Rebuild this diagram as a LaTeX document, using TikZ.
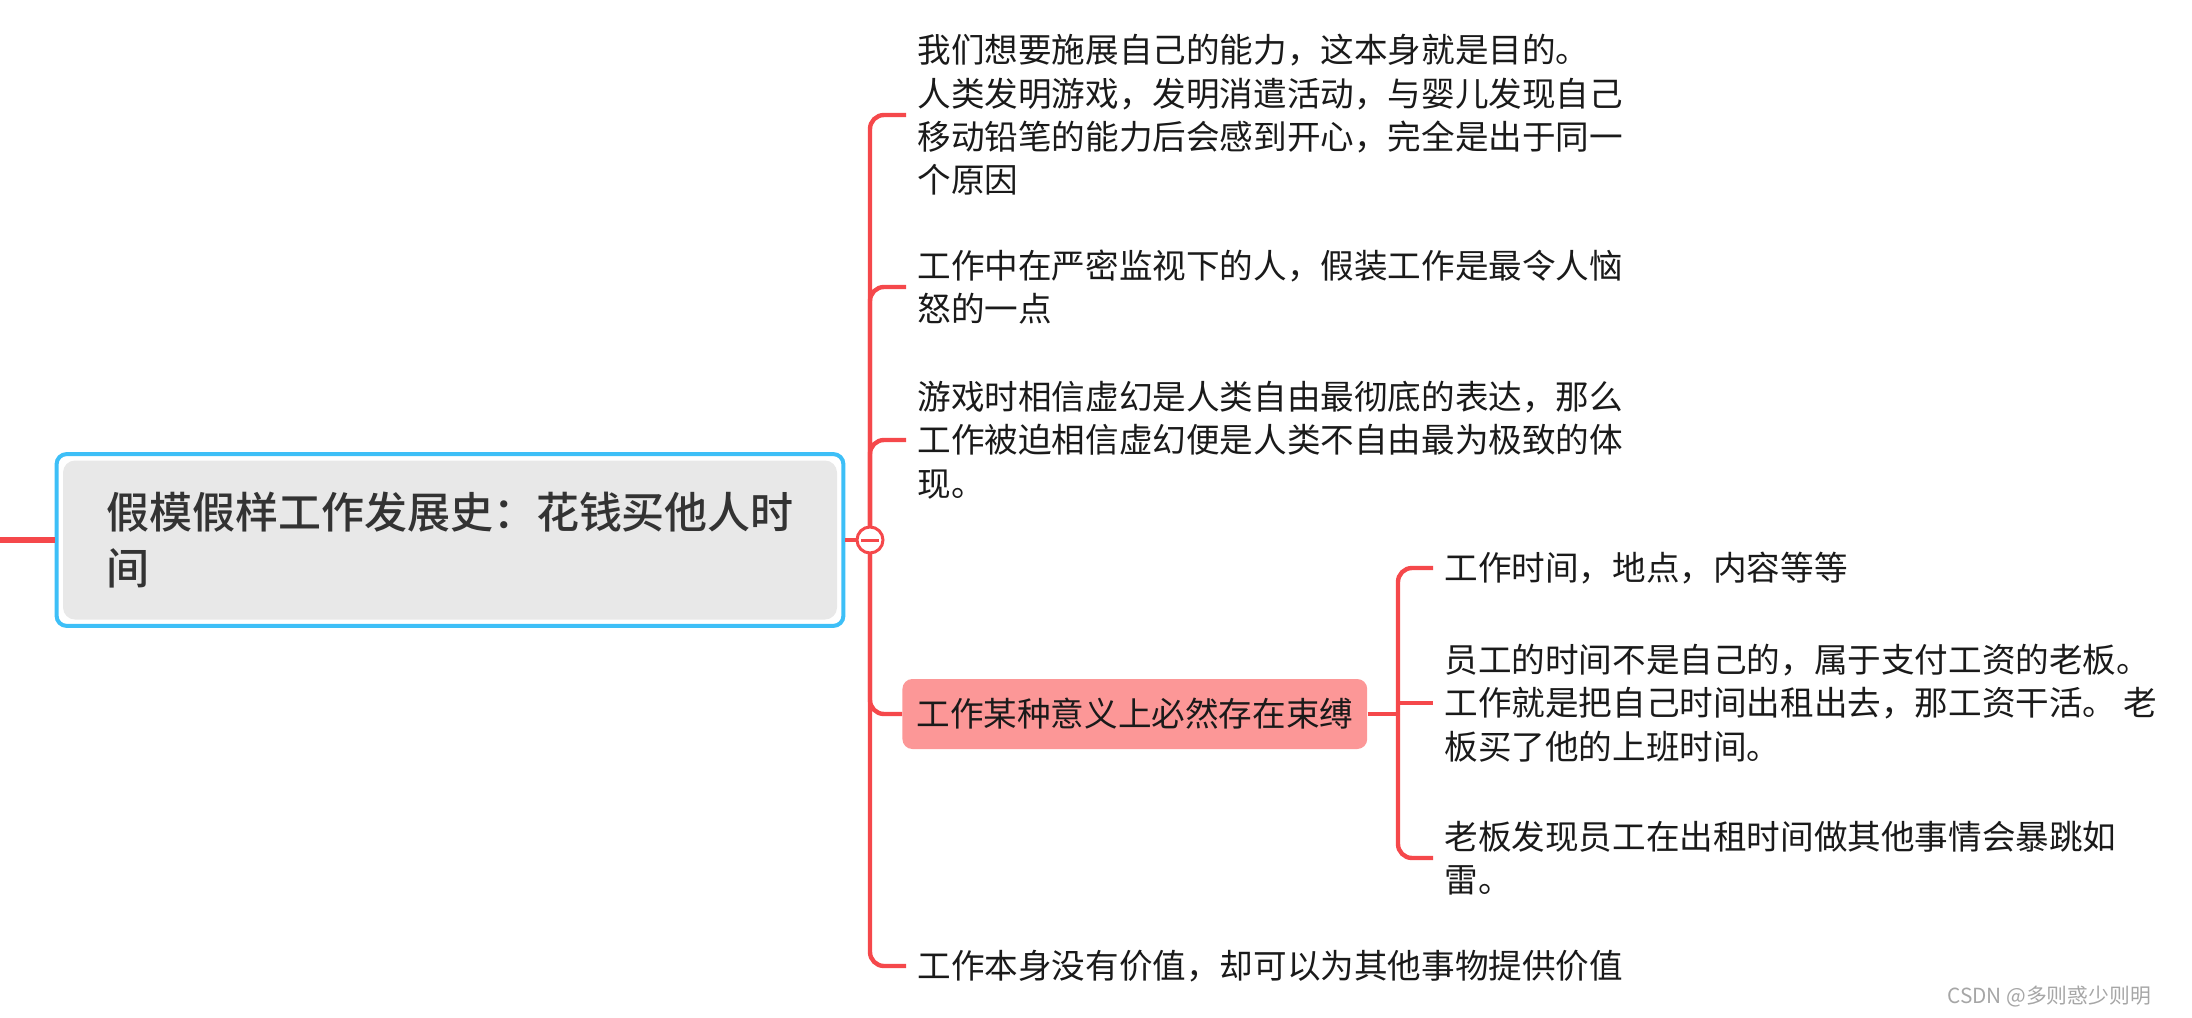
\documentclass[tikz,border=0pt]{standalone}
\usepackage{fontspec}
\setmainfont{Noto Sans CJK SC}
\newfontfamily\titlefont{Noto Sans CJK SC Medium}
\usetikzlibrary{fit}
\definecolor{branch-red}{HTML}{F5484B}
\definecolor{frame-blue}{HTML}{3DBFF7}
\definecolor{title-gray}{HTML}{E8E8E8}
\definecolor{title-ink}{HTML}{333333}
\definecolor{tag-pink}{HTML}{FC9797}
\definecolor{ink}{HTML}{1A1A1A}

\begin{document}
\begin{tikzpicture}[x=0.5pt, y=-0.5pt,
    every node/.style={font=\fontsize{16.8pt}{21.7pt}\selectfont, text=ink},
    branch/.style={draw=branch-red, line width=2.2pt, rounded corners=7pt},
    leaf/.style={anchor=west, align=left, inner xsep=5.5pt, inner ysep=0pt},
    tag/.style={anchor=west, fill=tag-pink, rounded corners=5pt,
      inner xsep=7pt, minimum height=35pt},
    fold/.style={circle, draw=branch-red, fill=white, line width=1.5pt,
      minimum size=13pt, inner sep=0pt}]
  \useasboundingbox (0,0) rectangle (2192,1018);
  % central topic
  \node[fill=title-gray, rounded corners=6pt, minimum width=387pt,
        minimum height=79.5pt, align=left, text=title-ink,
        font=\fontsize{21.5pt}{28pt}\selectfont\titlefont] (title) at (450,540)
        {假模假样工作发展史：花钱买他人时\\间};
  \node[draw=frame-blue, line width=2pt, rounded corners=5pt,
        fit=(title), inner sep=3pt] (frame) {};
  \coordinate (lead) at (0,540);
  \draw[branch, line width=3.2pt] (lead) -- (frame.west);
  % main branches
  \coordinate (hub) at (870,540);
  \node[leaf] (w1) at (906,115) {我们想要施展自己的能力，这本身就是目的。\\人类发明游戏，发明消遣活动，与婴儿发现自己\\移动铅笔的能力后会感到开心，完全是出于同一\\个原因};
  \node[leaf] (w2) at (906,287) {工作中在严密监视下的人，假装工作是最令人恼\\怒的一点};
  \node[leaf] (w3) at (906,440) {游戏时相信虚幻是人类自由最彻底的表达，那么\\工作被迫相信虚幻便是人类不自由最为极致的体\\现。};
  \node[tag] (pink) at (902,714) {工作某种意义上必然存在束缚};
  \node[leaf] (w5) at (906,966) {工作本身没有价值，却可以为其他事物提供价值};
  \foreach \n in {w1,w2,w3,pink,w5}
    \draw[branch] (hub) |- (\n.west);
  \draw[branch] (frame.east) -- (hub);
  \node[fold] (fold) at (hub) {};
  \draw[branch-red, line width=1.5pt] ([xshift=-4.5pt]fold.center) -- ([xshift=4.5pt]fold.center);
  % sub branches
  \coordinate (subhub) at (1398,714);
  \node[leaf] (s1) at (1433,568) {工作时间，地点，内容等等};
  \node[leaf] (s2) at (1433,703) {员工的时间不是自己的，属于支付工资的老板。\\工作就是把自己时间出租出去，那工资干活。 老\\板买了他的上班时间。};
  \node[leaf] (s3) at (1433,858) {老板发现员工在出租时间做其他事情会暴跳如\\雷。};
  \draw[branch] (pink.east) -- (subhub);
  \draw[branch] (subhub) |- (s1.west);
  \draw[branch] (subhub) |- (s3.west);
  \draw[branch] (subhub |- s2.west) -- (s2.west);
  % watermark
  \node[font=\fontsize{10.4pt}{12pt}\selectfont, text=gray!70, anchor=east]
    (mark) at (2158,997) {CSDN @多则惑少则明};
\end{tikzpicture}
\end{document}
